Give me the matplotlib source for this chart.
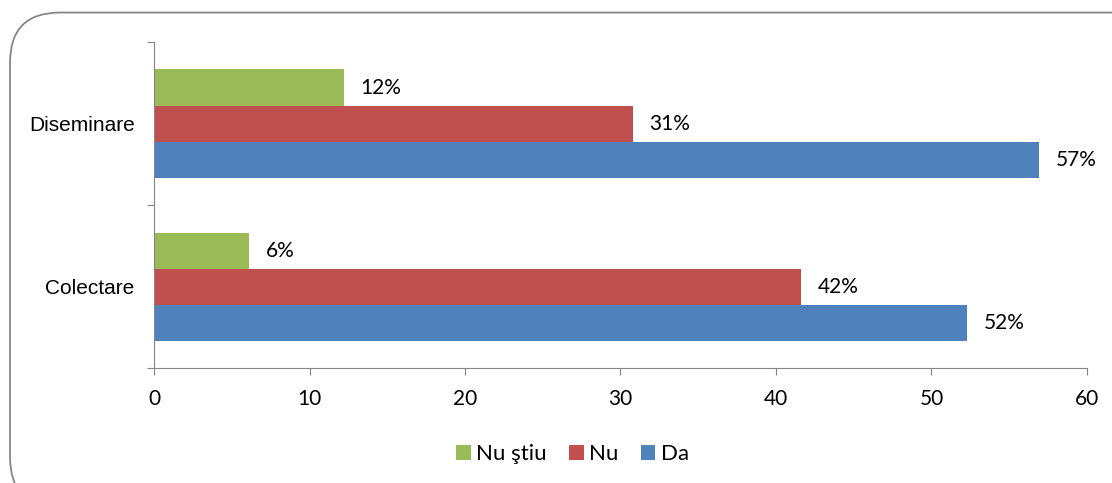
import matplotlib.pyplot as plt
import matplotlib
from matplotlib.patches import FancyBboxPatch
import numpy as np

categories = ['Colectare', 'Diseminare']
da = [52.3, 56.9]
nu = [41.6, 30.8]
nu_stiu = [6.1, 12.2]
labels_da = ['52%', '57%']
labels_nu = ['42%', '31%']
labels_nu_stiu = ['6%', '12%']

c_da = '#4f81bd'
c_nu = '#c0504d'
c_ns = '#9bbb59'

matplotlib.rc('font', family=['Lato', 'DejaVu Sans'])

fig = plt.figure(figsize=(11.12, 4.83), dpi=100)
fig.patches.append(FancyBboxPatch((0.009, -0.05), 1.05, 1.024,
                                  boxstyle='round,pad=0,rounding_size=0.045',
                                  transform=fig.transFigure, fill=False,
                                  edgecolor='#868686', linewidth=1.3,
                                  mutation_aspect=1112 / 483))
ax = fig.add_axes([0.1385, 0.238, 0.839, 0.675])

y = np.arange(len(categories))
h = 0.221
b1 = ax.barh(y - h, da, h, color=c_da, label='Da')
b2 = ax.barh(y, nu, h, color=c_nu, label='Nu')
b3 = ax.barh(y + h, nu_stiu, h, color=c_ns, label='Nu ştiu')

for bars, labs in [(b1, labels_da), (b2, labels_nu), (b3, labels_nu_stiu)]:
    ax.bar_label(bars, labels=labs, padding=12, fontsize=15)

ax.set_xlim(0, 60)
ax.set_ylim(-0.5, 1.5)
ax.set_xticks(range(0, 61, 10))
ax.set_yticks([-0.5, 0.5, 1.5])
ax.set_yticklabels([])
ax.set_yticks(y, minor=True)
ax.set_yticklabels(categories, minor=True, fontsize=15,
                   family='Liberation Sans')
ax.tick_params(axis='y', which='minor', length=0, pad=14)
ax.tick_params(axis='y', which='major', length=5, color='#868686')
ax.tick_params(axis='x', length=5, color='#868686', labelsize=15, pad=10)
for s in ['top', 'right']:
    ax.spines[s].set_visible(False)
for s in ['left', 'bottom']:
    ax.spines[s].set_color('#868686')

handles = [b3, b2, b1]
ax.legend(handles, ['Nu ştiu', 'Nu', 'Da'], loc='center',
          bbox_to_anchor=(0.515, 0.06), bbox_transform=fig.transFigure,
          ncol=3, frameon=False, fontsize=16, handlelength=0.65,
          handleheight=0.65, handletextpad=0.25, columnspacing=1.0)

fig.savefig('out.png', dpi=100)
